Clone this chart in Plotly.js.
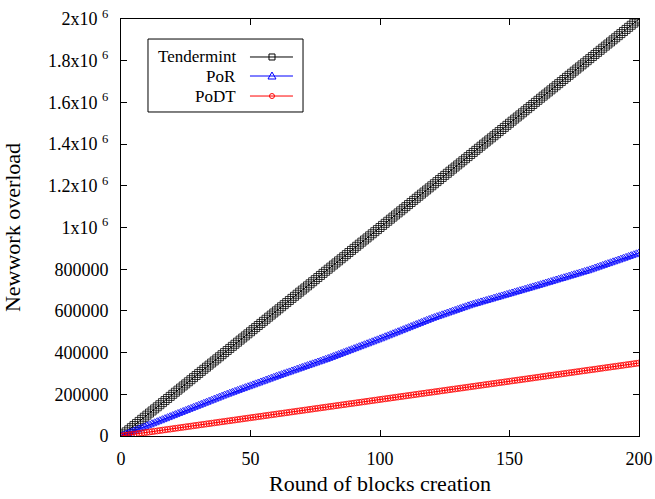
<!DOCTYPE html>
<html>
<head>
<meta charset="utf-8">
<script src="https://cdn.plot.ly/plotly-3.0.1.min.js"></script>
<style>html,body{margin:0;padding:0;background:#fff;}#chart{width:655px;height:499px;}</style>
</head>
<body>
<div id="chart"></div>
<script>
// ---- data ----
const seriesNames = ["Tendermint", "PoR", "PoDT"];

const tendermint = [
0,10000,20000,30000,40000,50000,60000,70000,80000,90000,
100000,110000,120000,130000,140000,150000,160000,170000,180000,190000,
200000,210000,220000,230000,240000,250000,260000,270000,280000,290000,
300000,310000,320000,330000,340000,350000,360000,370000,380000,390000,
400000,410000,420000,430000,440000,450000,460000,470000,480000,490000,
500000,510000,520000,530000,540000,550000,560000,570000,580000,590000,
600000,610000,620000,630000,640000,650000,660000,670000,680000,690000,
700000,710000,720000,730000,740000,750000,760000,770000,780000,790000,
800000,810000,820000,830000,840000,850000,860000,870000,880000,890000,
900000,910000,920000,930000,940000,950000,960000,970000,980000,990000,
1000000,1010000,1020000,1030000,1040000,1050000,1060000,1070000,1080000,1090000,
1100000,1110000,1120000,1130000,1140000,1150000,1160000,1170000,1180000,1190000,
1200000,1210000,1220000,1230000,1240000,1250000,1260000,1270000,1280000,1290000,
1300000,1310000,1320000,1330000,1340000,1350000,1360000,1370000,1380000,1390000,
1400000,1410000,1420000,1430000,1440000,1450000,1460000,1470000,1480000,1490000,
1500000,1510000,1520000,1530000,1540000,1550000,1560000,1570000,1580000,1590000,
1600000,1610000,1620000,1630000,1640000,1650000,1660000,1670000,1680000,1690000,
1700000,1710000,1720000,1730000,1740000,1750000,1760000,1770000,1780000,1790000,
1800000,1810000,1820000,1830000,1840000,1850000,1860000,1870000,1880000,1890000,
1900000,1910000,1920000,1930000,1940000,1950000,1960000,1970000,1980000,1990000,
2000000];

const por = [
0,4700,9900,14500,19600,24400,29500,34100,39300,43900,
49000,53800,58900,63600,68700,73400,78500,83200,88300,93000,
98000,102800,107900,112600,117700,122400,127500,132200,137300,142000,
147000,151800,156900,161600,166700,171400,176500,181200,186300,191000,
196000,200400,205100,209400,214100,218400,223100,227400,232100,236400,
241000,245400,250100,254400,259100,263400,268100,272400,277100,281400,
286000,290200,294700,298800,303300,307400,311900,316000,320500,324600,
329000,333200,337700,341800,346300,350400,354900,359000,363500,367600,
372000,376600,381500,386000,390900,395400,400300,404800,409700,414200,
419000,423600,428500,433000,437900,442400,447300,451800,456700,461200,
466000,470800,475900,480600,485700,490400,495500,500200,505300,510000,
515000,519800,524900,529600,534700,539400,544500,549200,554300,559000,
564000,568200,572700,576800,581300,585400,589900,594000,598500,602600,
607000,611200,615700,619800,624300,628500,632000,635800,639200,643000,
646500,650000,653800,657200,661000,664500,668000,671800,675200,679000,
682500,686000,689800,693200,697000,700500,704000,707800,711200,715000,
718500,722100,726000,729600,733500,737000,740700,744600,748200,752100,
755500,759100,763000,766600,770500,774000,777700,781600,785200,789100,
792500,796700,801100,805300,809600,813900,818100,822500,826700,831000,
835300,839500,843900,848100,852400,856700,860900,865300,869500,873800,
878000];

const podt = [
0,1800,3400,5300,7000,8700,10600,12200,14000,15800,
17500,19300,20900,22800,24400,26300,28000,29700,31600,33200,
35000,36800,38400,40300,41900,43800,45500,47200,49100,50700,
52500,54300,55900,57800,59400,61300,63000,64700,66600,68200,
70000,71800,73400,75300,76900,78800,80500,82200,84100,85700,
87500,89300,90900,92800,94400,96300,98000,99700,101600,103200,
105000,106800,108400,110300,111900,113800,115500,117200,119100,120700,
122500,124300,125900,127800,129400,131300,133000,134700,136600,138200,
140000,141800,143400,145300,146900,148800,150500,152200,154100,155700,
157500,159300,160900,162800,164400,166300,168000,169700,171600,173200,
175000,176800,178400,180300,181900,183800,185500,187200,189100,190700,
192500,194300,195900,197800,199400,201300,203000,204700,206600,208200,
210000,211800,213400,215300,216900,218800,220500,222200,224100,225700,
227500,229300,230900,232800,234400,236300,238000,239700,241600,243200,
245000,246800,248400,250300,251900,253800,255500,257200,259100,260700,
262500,264300,265900,267800,269400,271300,273000,274700,276600,278200,
280000,281800,283400,285300,286900,288800,290500,292200,294100,295700,
297500,299300,300900,302800,304400,306300,308000,309700,311600,313200,
315000,316800,318400,320300,321900,323800,325500,327200,329100,330700,
332500,334300,335900,337800,339400,341300,343000,344700,346600,348200,
350000];

const rounds = tendermint.map((_, i) => i);

const xTickVals = [0, 50, 100, 150, 200];
const xTickText = ["0", "50", "100", "150", "200"];
const yTickVals = [0, 200000, 400000, 600000, 800000, 1000000, 1200000, 1400000, 1600000, 1800000, 2000000];
const yTickText = ["0", "200000", "400000", "600000", "800000",
  "1x10 <sup>6</sup>", "1.2x10 <sup>6</sup>", "1.4x10 <sup>6</sup>", "1.6x10 <sup>6</sup>", "1.8x10 <sup>6</sup>", "2x10 <sup>6</sup>"];

const xTitle = "Round of blocks creation";
const yTitle = "Newwork overload";

// ---- styles ----
const FONT = "Times New Roman";
const colors = ["#000000", "#0000ff", "#ff0000"];
const symbols = ["square-open", "triangle-up-open", "circle-open"];
const sizes = [8, 8, 6];
const seriesData = [tendermint, por, podt];

const traces = seriesData.map((ys, k) => ({
  x: rounds, y: ys, name: seriesNames[k], type: "scatter", mode: "lines+markers",
  line: {color: colors[k], width: 1},
  marker: {symbol: symbols[k], size: sizes[k], color: colors[k], line: {color: colors[k], width: 0.8}},
  showlegend: false, hoverinfo: "skip"
}));

// ---- manual legend (text left of sample, as in the reference) ----
const legBox = {x0: 0.0521, x1: 0.3514, y0: 0.777, y1: 0.952};
const legRowsY = [0.9089, 0.8633, 0.8153];
const legTextX = 0.2259, legLineX0 = 0.249, legLineX1 = 0.332, legMarkX = 0.2915;

const shapes = [{type: "rect", xref: "paper", yref: "paper", x0: legBox.x0, x1: legBox.x1, y0: legBox.y0, y1: legBox.y1,
  line: {color: "#000", width: 1}, fillcolor: "#fff", layer: "above"}];
const annotations = [];
seriesNames.forEach((nm, k) => {
  const yy = legRowsY[k];
  annotations.push({xref: "paper", yref: "paper", x: legTextX, y: yy, xanchor: "right", yanchor: "middle",
    text: nm, showarrow: false, font: {family: FONT, size: 17, color: "#000"}});
  shapes.push({type: "line", xref: "paper", yref: "paper", x0: legLineX0, x1: legLineX1, y0: yy, y1: yy,
    line: {color: colors[k], width: 1}, layer: "above"});
  const base = {xref: "paper", yref: "paper", xsizemode: "pixel", ysizemode: "pixel", xanchor: legMarkX, yanchor: yy,
    line: {color: colors[k], width: 1}, fillcolor: "rgba(0,0,0,0)", layer: "above"};
  if (k === 0) shapes.push(Object.assign({type: "rect", x0: -3, x1: 3, y0: -3, y1: 3}, base));
  if (k === 1) shapes.push(Object.assign({type: "path", path: "M-4,-3L4,-3L0,4Z"}, base));
  if (k === 2) shapes.push(Object.assign({type: "circle", x0: -2.5, x1: 2.5, y0: -2.5, y1: 2.5}, base));
});

const axisCommon = {
  showline: true, linecolor: "#000", linewidth: 1, mirror: "allticks",
  ticks: "inside", ticklen: 6, tickcolor: "#000", tickwidth: 1,
  showgrid: false, zeroline: false,
  tickfont: {family: FONT, size: 18, color: "#000"}
};

const layout = {
  width: 655, height: 499,
  margin: {l: 121, r: 16, t: 19, b: 63, pad: 0},
  paper_bgcolor: "#fff", plot_bgcolor: "#fff",
  font: {family: FONT, color: "#000"},
  showlegend: false,
  xaxis: Object.assign({}, axisCommon, {
    range: [0, 200], tickmode: "array", tickvals: xTickVals, ticktext: xTickText,
    ticklabelstandoff: 6,
    title: {text: xTitle, font: {family: FONT, size: 22, color: "#000"}, standoff: 8}
  }),
  yaxis: Object.assign({}, axisCommon, {
    range: [0, 2000000], tickmode: "array", tickvals: yTickVals, ticktext: yTickText,
    ticklabelstandoff: 8,
    title: {text: yTitle, font: {family: FONT, size: 22, color: "#000"}, standoff: 22}
  }),
  shapes: shapes,
  annotations: annotations
};

Plotly.newPlot("chart", traces, layout, {displayModeBar: false, staticPlot: true});
</script>
</body>
</html>
